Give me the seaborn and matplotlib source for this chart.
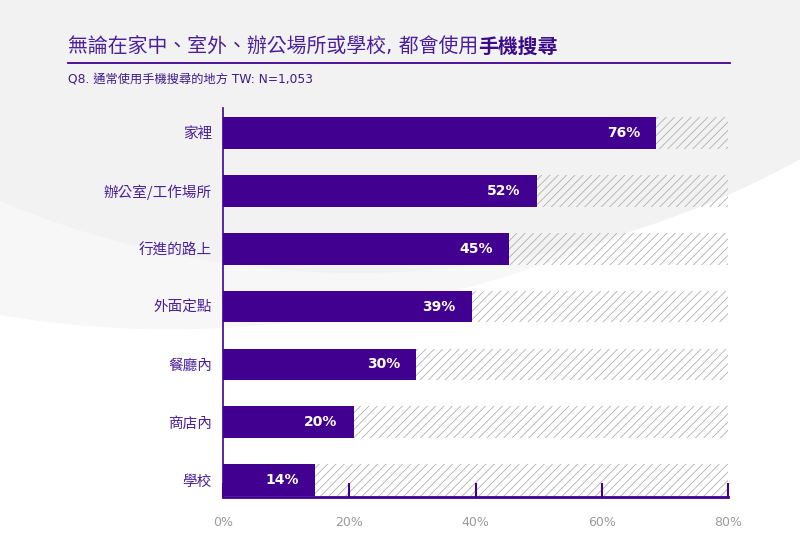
import numpy as np
import pandas as pd
import seaborn as sns
import matplotlib.pyplot as plt
from matplotlib.patches import Ellipse, PathPatch
from matplotlib.path import Path

# ---- data ----
categories = ["家裡", "辦公室/工作場所", "行進的路上", "外面定點", "餐廳內", "商店內", "學校"]
bar_values = [68.6, 49.7, 45.3, 39.4, 30.6, 20.7, 14.5]          # bar lengths as drawn
value_labels = ["76%", "52%", "45%", "39%", "30%", "20%", "14%"]  # printed labels
x_ticks = [0, 20, 40, 60, 80]
x_tick_labels = ["0%", "20%", "40%", "60%", "80%"]
x_max = 80

title_regular = "無論在家中、室外、辦公場所或學校, 都會使用"
title_bold = "手機搜尋"
subtitle = "Q8. 通常使用手機搜尋的地方 TW: N=1,053"

PURPLE = "#41008f"
TEXT_PURPLE = "#4a1f9c"
MIXED = ['DejaVu Sans', 'Noto Sans CJK TC']

plt.rcParams['font.family'] = ['Noto Sans CJK TC', 'DejaVu Sans']
plt.rcParams['hatch.linewidth'] = 0.6

fig = plt.figure(figsize=(8, 5.6), dpi=100)
fig.patch.set_facecolor("white")

# ---- background decoration (pixel coordinates) ----
bg = fig.add_axes([0, 0, 1, 1], zorder=-10)
bg.set_xlim(0, 800)
bg.set_ylim(560, 0)
bg.axis("off")

verts = [(0, 0), (0, 315), (380, 380), (800, 150), (800, 0), (0, 0)]
codes = [Path.MOVETO, Path.LINETO, Path.CURVE3, Path.CURVE3, Path.LINETO, Path.CLOSEPOLY]
bg.add_patch(PathPatch(Path(verts, codes), facecolor="#f7f7f7", edgecolor="none"))
bg.add_patch(Ellipse((357, -605), width=1800, height=1756, facecolor="#f2f2f2", edgecolor="none"))

# title
t1 = bg.text(68, 53, title_regular, fontsize=14.3, color=TEXT_PURPLE, va="baseline", ha="left",
             family=MIXED)
fig.canvas.draw()
ext = t1.get_window_extent(renderer=fig.canvas.get_renderer())
x_end = bg.transData.inverted().transform((ext.x1, ext.y0))[0]
bg.text(x_end, 53, title_bold, fontsize=14.3, color="#3a0a8a", fontweight="bold",
        va="baseline", ha="left")
bg.plot([68, 730], [63, 63], color=PURPLE, lw=1.3)
bg.text(68, 79, subtitle, fontsize=8.8, color="#3d1a8a", va="center", ha="left", family=MIXED)

# ---- main chart ----
ax = fig.add_axes([223 / 800, 63 / 560, 505 / 800, 389 / 560])
ax.patch.set_visible(False)

df = pd.DataFrame({"category": categories, "value": bar_values, "full": [x_max] * len(categories)})

sns.barplot(data=df, x="full", y="category", orient="h", color="white", width=0.55, ax=ax)
n_bg = len(ax.patches)
for p in ax.patches:
    p.set_facecolor("none")
    p.set_edgecolor("#b0b0b0")
    p.set_hatch("////")
    p.set_linewidth(0)

sns.barplot(data=df, x="value", y="category", orient="h", color=PURPLE, saturation=1,
            width=0.55, ax=ax)
for p in ax.patches[n_bg:]:
    p.set_facecolor(PURPLE)
    p.set_edgecolor("none")

for i, (v, lab) in enumerate(zip(bar_values, value_labels)):
    ax.annotate(lab, xy=(v, i), xytext=(-11.5, 0), textcoords="offset points",
                ha="right", va="center", color="white", fontsize=10, fontweight="bold",
                family="DejaVu Sans")

ax.set_xlim(0, x_max)
ax.set_ylim(6.29, -0.43)
ax.set_xticks(x_ticks)
ax.set_xticklabels(x_tick_labels, family="DejaVu Sans")
ax.set_xlabel("")
ax.set_ylabel("")

for s in ["top", "right"]:
    ax.spines[s].set_visible(False)
ax.spines["left"].set_color(PURPLE)
ax.spines["left"].set_linewidth(1.2)
ax.spines["bottom"].set_color(PURPLE)
ax.spines["bottom"].set_linewidth(2)

ax.tick_params(axis="x", direction="in", length=10, width=1.5, color=PURPLE,
               labelcolor="#9a9a9a", labelsize=9, pad=14)
ax.tick_params(axis="y", length=0, pad=8, labelcolor=TEXT_PURPLE, labelsize=10.5)

fig.savefig("out.png", dpi=100, facecolor=fig.get_facecolor())
